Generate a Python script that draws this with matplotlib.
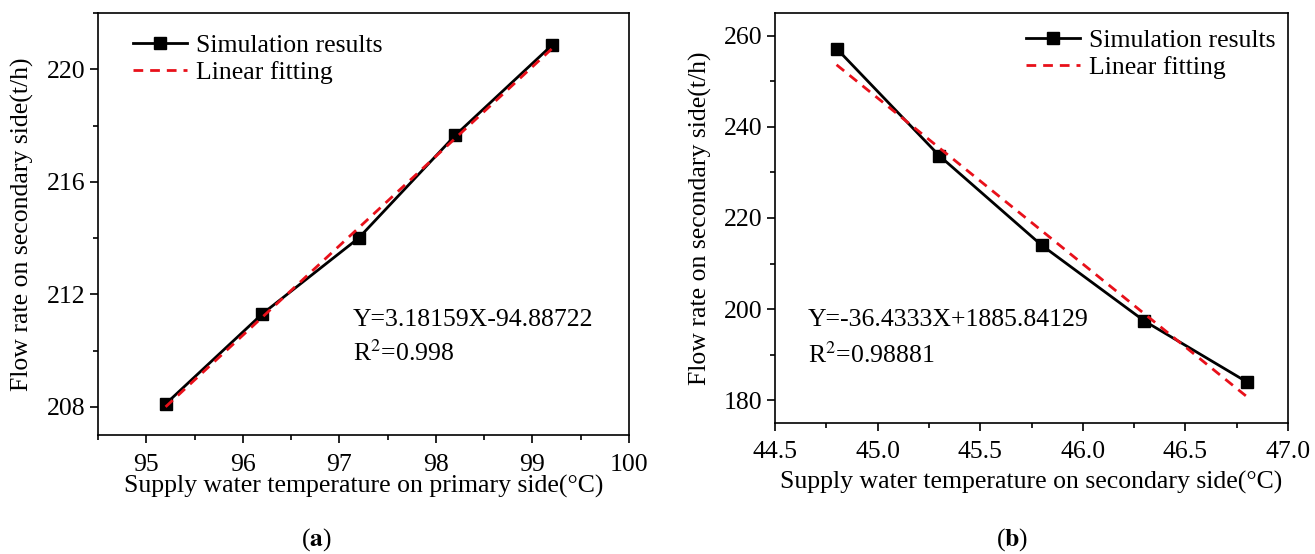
import matplotlib
matplotlib.use('Agg')
import matplotlib.pyplot as plt
from matplotlib.ticker import MultipleLocator
import numpy as np

plt.rcParams['font.family'] = ['Liberation Serif', 'DejaVu Serif']
plt.rcParams['mathtext.fontset'] = 'stix'

# (a) primary side supply temperature vs flow rate
temp_a = [95.2, 96.2, 97.2, 98.2, 99.2]
flow_a = [208.1, 211.3, 214.0, 217.65, 220.85]
fit_a = (3.18159, -94.88722)
eq_a = 'Y=3.18159X-94.88722'
r2_a = 'R$^2$=0.998'

# (b) secondary side supply temperature vs flow rate
temp_b = [44.8, 45.3, 45.8, 46.3, 46.8]
flow_b = [257.2, 233.7, 214.0, 197.4, 184.0]
fit_b = (-36.4333, 1885.84129)
eq_b = 'Y=-36.4333X+1885.84129'
r2_b = 'R$^2$=0.98881'

fs = 18.5

fig = plt.figure(figsize=(13.15, 5.54), dpi=100)
W, H = 1315, 554
ax1 = fig.add_axes([98 / W, 1 - 435 / H, (629 - 98) / W, (435 - 13) / H])
ax2 = fig.add_axes([775 / W, 1 - 423 / H, (1288 - 775) / W, (423 - 13) / H])


def draw(ax, x, y, fit, eq, r2, leg_xy, eq_xy, r2_xy):
    x = np.array(x)
    ax.plot(x, y, color='black', lw=2, marker='s', ms=8,
            label='Simulation results', zorder=3)
    ax.plot(x, fit[0] * x + fit[1], color='#e8101a', lw=2, ls=(0, (3.5, 2.5)),
            label='Linear fitting', zorder=4)
    ax.text(eq_xy[0], eq_xy[1], eq, fontsize=fs, va='center')
    ax.text(r2_xy[0], r2_xy[1], r2, fontsize=fs, va='center')
    ax.legend(loc='upper left', bbox_to_anchor=leg_xy, frameon=False,
              fontsize=fs, handlelength=2.1, handletextpad=0.35,
              labelspacing=0.15, borderpad=0, borderaxespad=0)
    ax.tick_params(which='both', direction='out', top=False, right=False,
                   labelsize=fs)
    ax.tick_params(which='major', length=6, width=1.2)
    ax.tick_params(which='minor', length=3.5, width=1.2)
    ax.tick_params(axis='y', pad=3)
    for s in ax.spines.values():
        s.set_linewidth(1.2)


draw(ax1, temp_a, flow_a, fit_a, eq_a, r2_a, (0.066, 0.95),
     (97.14, 211.1), (97.14, 209.9))
ax1.set_xlim(94.5, 100)
ax1.set_ylim(207, 222)
ax1.xaxis.set_major_locator(MultipleLocator(1))
ax1.xaxis.set_minor_locator(MultipleLocator(0.5))
ax1.yaxis.set_major_locator(MultipleLocator(4))
ax1.yaxis.set_minor_locator(MultipleLocator(2))
ax1.tick_params(axis='x', pad=8)
ax1.set_xlabel('Supply water temperature on primary side(°C)', fontsize=fs, va='center')
ax1.xaxis.set_label_coords(0.5, (435 - 486) / 422)
ax1.set_ylabel('Flow rate on secondary side(t/h)', fontsize=fs, va='center')
ax1.yaxis.set_label_coords((22 - 98) / 531, 0.5)

draw(ax2, temp_b, flow_b, fit_b, eq_b, r2_b, (0.489, 0.96),
     (44.66, 197.6), (44.66, 189.9))
ax2.set_xlim(44.5, 47.0)
ax2.set_ylim(175, 265)
ax2.xaxis.set_major_locator(MultipleLocator(0.5))
ax2.xaxis.set_minor_locator(MultipleLocator(0.25))
ax2.yaxis.set_major_locator(MultipleLocator(20))
ax2.yaxis.set_minor_locator(MultipleLocator(10))
ax2.xaxis.set_major_formatter(plt.FormatStrFormatter('%.1f'))
ax2.tick_params(axis='x', pad=7)
ax2.set_xlabel('Supply water temperature on secondary side(°C)', fontsize=fs, va='center')
ax2.xaxis.set_label_coords(0.5, (423 - 482) / 410)
ax2.set_ylabel('Flow rate on secondary side(t/h)', fontsize=fs, va='center')
ax2.yaxis.set_label_coords((700 - 775) / 513, 0.5)

fig.text(316 / W, 1 - 540 / H, r'($\mathbf{a}$)', fontsize=fs, ha='center', va='center')
fig.text(1012 / W, 1 - 540 / H, r'($\mathbf{b}$)', fontsize=fs, ha='center', va='center')

fig.savefig('out.png', dpi=100)
